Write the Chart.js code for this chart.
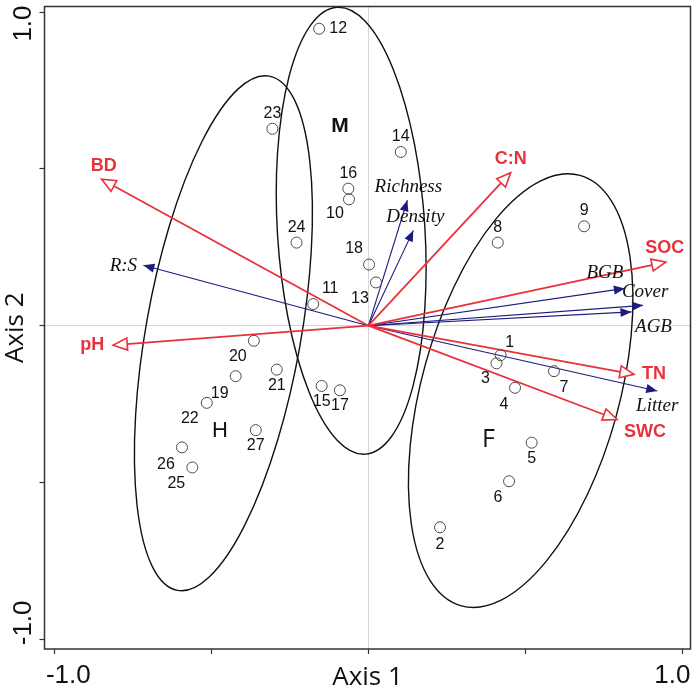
<!DOCTYPE html>
<html>
<head>
<meta charset="utf-8">
<script src="https://cdn.jsdelivr.net/npm/chart.js@4.4.1/dist/chart.umd.min.js"></script>
<style>
  html, body { margin: 0; padding: 0; background: #fff; }
</style>
</head>
<body>
<canvas id="biplot" width="699" height="692"></canvas>
<script>
// plots (sites) and their scores on axis 1 / axis 2
const siteIds = ['1','2','3','4','5','6','7','8','9','10','11','12','13','14',
                 '15','16','17','18','19','20','21','22','23','24','25','26','27'];
const siteX = [0.421, 0.228, 0.408, 0.467, 0.520, 0.448, 0.591, 0.412, 0.687,
               -0.062, -0.176, -0.157, 0.024, 0.103, -0.149, -0.064, -0.091, 0.002,
               -0.423, -0.365, -0.292, -0.515, -0.306, -0.229, -0.561, -0.594, -0.359];
const siteY = [-0.094, -0.643, -0.120, -0.198, -0.373, -0.496, -0.145, 0.265, 0.317,
               0.403, 0.069, 0.947, 0.138, 0.554, -0.192, 0.437, -0.206, 0.195,
               -0.161, -0.048, -0.140, -0.246, 0.628, 0.265, -0.452, -0.388, -0.333];

// soil variables (red arrows)
const soilNames = ['BD', 'pH', 'C:N', 'SOC', 'TN', 'SWC'];
const soilX = [-0.850, -0.813, 0.453, 0.947, 0.846, 0.792];
const soilY = [0.467, -0.062, 0.488, 0.203, -0.155, -0.299];

// vegetation variables (blue arrows)
const vegNames = ['R:S', 'Richness', 'Density', 'BGB', 'Cover', 'AGB', 'Litter'];
const vegX = [-0.717, 0.124, 0.143, 0.817, 0.875, 0.838, 0.920];
const vegY = [0.193, 0.400, 0.304, 0.119, 0.065, 0.044, -0.208];

// groups and their ellipses (centre, semi axes, tilt from vertical in degrees)
const groupNames = ['H', 'M', 'F'];
const groupLabelX = [-0.473, -0.091, 0.382];
const groupLabelY = [-0.335, 0.636, -0.365];
const ellipseCx = [-0.462, -0.055, 0.485];
const ellipseCy = [-0.024, 0.303, -0.207];
const ellipseA = [0.833, 0.714, 0.712];
const ellipseB = [0.247, 0.235, 0.315];
const ellipseTilt = [10.1, -3.6, 15.4];

const tickValues = [-1, -0.5, 0, 0.5, 1];
const tickLabels = ['-1.0', '', '', '', '1.0'];

// label placement (pixels from the mark)
const siteLabelDx = [9, 0, -11, -11, 0, -11, 10, 0, 0, -14, 17, 19, -16, 0, 0, 0, 0, -15, -16, -16, 0, -17, 0, 0, -16, -16, 0];
const siteLabelDy = [-13, 17, 15, 17, 16, 16, 16, -15, -16, 14, -15, 0, 16, -15, 16, -15, 15, -16, 17, 16, 16, 16, -15, -15, 16, 17, 15];
const soilLabelDx = [2, -21, 0, -1, 20, 28];
const soilLabelDy = [-13, 0, -14, -14, 0, 13];
const vegLabelDx = [-20, 1, 2, -20, 2, 22, 0];
const vegLabelDy = [1, -13, -13, -15, -13, 15, 15];

const RED = '#e8323b';
const NAVY = '#1b1b80';

const datasets = [];
datasets.push({
  label: 'sites',
  data: siteX.map((x, i) => ({ x: x, y: siteY[i] })),
  pointStyle: 'circle',
  pointRadius: 5.5,
  borderColor: '#4a4a4a',
  borderWidth: 1,
  backgroundColor: 'rgba(0,0,0,0)'
});
soilNames.forEach((n, i) => {
  datasets.push({
    label: n, arrow: 'open', labelDx: soilLabelDx[i], labelDy: soilLabelDy[i],
    data: [{ x: 0, y: 0 }, { x: soilX[i], y: soilY[i] }],
    showLine: true, borderColor: RED, borderWidth: 1.8, pointRadius: 0
  });
});
vegNames.forEach((n, i) => {
  datasets.push({
    label: n, arrow: 'filled', labelDx: vegLabelDx[i], labelDy: vegLabelDy[i],
    data: [{ x: 0, y: 0 }, { x: vegX[i], y: vegY[i] }],
    showLine: true, borderColor: NAVY, borderWidth: 1.1, pointRadius: 0
  });
});

const ellipses = {
  id: 'ellipses',
  beforeDatasetsDraw(chart) {
    const { ctx, scales: { x, y } } = chart;
    const pxX = Math.abs(x.getPixelForValue(1) - x.getPixelForValue(0));
    const pxY = Math.abs(y.getPixelForValue(0) - y.getPixelForValue(1));
    ctx.save();
    ctx.strokeStyle = '#111';
    ctx.lineWidth = 1.4;
    ellipseCx.forEach((cx, i) => {
      ctx.beginPath();
      ctx.ellipse(x.getPixelForValue(cx), y.getPixelForValue(ellipseCy[i]),
        ellipseB[i] * pxX, ellipseA[i] * pxY, ellipseTilt[i] * Math.PI / 180, 0, 2 * Math.PI);
      ctx.stroke();
    });
    ctx.restore();
  }
};

const decorations = {
  id: 'decorations',
  afterDatasetsDraw(chart) {
    const { ctx, chartArea: a, scales: { x, y } } = chart;
    ctx.save();
    // arrow heads + variable names
    chart.data.datasets.forEach((ds, di) => {
      if (!ds.arrow) return;
      const pts = chart.getDatasetMeta(di).data;
      const x0 = pts[0].x, y0 = pts[0].y, x1 = pts[1].x, y1 = pts[1].y;
      const ang = Math.atan2(y1 - y0, x1 - x0);
      const len = ds.arrow === 'open' ? 14 : 11;
      const hw = ds.arrow === 'open' ? 6 : 4.5;
      const bx = x1 - len * Math.cos(ang), by = y1 - len * Math.sin(ang);
      ctx.beginPath();
      ctx.moveTo(x1, y1);
      ctx.lineTo(bx + hw * Math.sin(ang), by - hw * Math.cos(ang));
      ctx.lineTo(bx - hw * Math.sin(ang), by + hw * Math.cos(ang));
      ctx.closePath();
      if (ds.arrow === 'open') {
        ctx.fillStyle = '#fff';
        ctx.fill();
        ctx.strokeStyle = RED;
        ctx.lineWidth = 1.6;
        ctx.stroke();
        ctx.font = 'bold 18px "Liberation Sans", Arial, sans-serif';
        ctx.fillStyle = RED;
      } else {
        ctx.fillStyle = NAVY;
        ctx.fill();
        ctx.font = 'italic 19px "Liberation Serif", "Times New Roman", serif';
        ctx.fillStyle = '#111';
      }
      ctx.textAlign = 'center';
      ctx.textBaseline = 'middle';
      ctx.fillText(ds.label, x1 + ds.labelDx, y1 + ds.labelDy);
    });

    // site numbers
    const sites = chart.getDatasetMeta(0).data;
    ctx.font = '16px "Liberation Sans", Arial, sans-serif';
    ctx.fillStyle = '#111';
    ctx.textAlign = 'center';
    ctx.textBaseline = 'middle';
    sites.forEach((p, i) => {
      ctx.fillText(siteIds[i], p.x + siteLabelDx[i], p.y + siteLabelDy[i]);
    });

    // group letters
    groupNames.forEach((g, i) => {
      ctx.font = g === 'M' ? 'bold 21px "Liberation Sans", Arial, sans-serif'
                           : (g === 'F' ? '25px "Open Sans", sans-serif' : '22px "Liberation Sans", Arial, sans-serif');
      ctx.fillText(g, x.getPixelForValue(groupLabelX[i]), y.getPixelForValue(groupLabelY[i]));
    });

    // frame
    ctx.strokeStyle = '#333';
    ctx.lineWidth = 1.5;
    ctx.strokeRect(a.left, a.top, a.right - a.left, a.bottom - a.top);

    // tick labels, pushed inside the frame like the original
    ctx.font = '26px "Liberation Sans", Arial, sans-serif';
    ctx.fillStyle = '#111';
    ctx.textBaseline = 'alphabetic';
    tickValues.forEach((v, i) => {
      const t = tickLabels[i];
      if (!t) return;
      const px = x.getPixelForValue(v);
      ctx.textAlign = v < 0 ? 'left' : 'right';
      ctx.fillText(t, v < 0 ? px - 8.6 : px + 8, a.bottom + 34);
    });
    tickValues.forEach((v, i) => {
      const t = tickLabels[i];
      if (!t) return;
      const py = y.getPixelForValue(v);
      ctx.save();
      ctx.translate(a.left - 13.5, v < 0 ? py + 6 : py - 6.7);
      ctx.rotate(-Math.PI / 2);
      ctx.textAlign = v < 0 ? 'left' : 'right';
      ctx.fillText(t, 0, 0);
      ctx.restore();
    });
    ctx.restore();
  }
};

function axisOptions(min, max, title, titlePad) {
  return {
    type: 'linear',
    min: min,
    max: max,
    afterBuildTicks: (scale) => { scale.ticks = tickValues.map(v => ({ value: v })); },
    ticks: { display: false },
    border: { display: false },
    grid: {
      drawOnChartArea: true,
      color: (c) => (c.tick && c.tick.value === 0 ? '#d6d6d6' : 'rgba(0,0,0,0)'),
      lineWidth: 1,
      tickColor: '#333',
      tickLength: 5,
      tickWidth: 1.2
    },
    title: {
      display: true,
      text: title,
      color: '#111',
      font: { family: '"Open Sans", sans-serif', size: 26, lineHeight: 1 },
      padding: titlePad
    }
  };
}

new Chart(document.getElementById('biplot'), {
  type: 'scatter',
  data: { datasets: datasets },
  options: {
    responsive: false,
    animation: false,
    events: [],
    layout: { padding: { left: 0, right: 8.5, top: 0, bottom: 1 } },
    plugins: { legend: { display: false }, tooltip: { enabled: false } },
    scales: {
      x: axisOptions(-1.032, 1.026, 'Axis 1', { top: 11, bottom: 0 }),
      y: axisOptions(-1.031, 1.018, 'Axis 2', { top: 3, bottom: 10.5 })
    }
  },
  plugins: [ellipses, decorations]
});
</script>
</body>
</html>
